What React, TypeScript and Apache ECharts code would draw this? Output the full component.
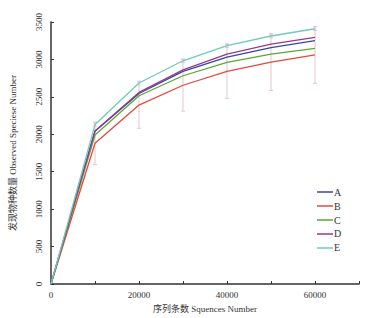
import React, { useEffect, useRef } from "react";
import * as echarts from "echarts";

const xValues = [0, 10000, 20000, 30000, 40000, 50000, 60000];
const seriesNames = ["A", "B", "C", "D", "E"];
const seriesA = [0, 2040, 2545, 2840, 3030, 3158, 3250];
const seriesB = [0, 1880, 2390, 2655, 2840, 2965, 3060];
const seriesC = [0, 1990, 2515, 2782, 2962, 3070, 3147];
const seriesD = [0, 2045, 2560, 2860, 3070, 3203, 3295];
const seriesE = [0, 2130, 2685, 2982, 3185, 3313, 3410];
const errorB = [0, 285, 310, 345, 360, 380, 380];
const errorE = [0, 20, 25, 25, 25, 25, 25];
const colors = ["#34479f", "#e5493d", "#5aa832", "#98398f", "#6fcabf"];
const xTickLabels = ["0", "20000", "40000", "60000"];

const allSeries = [seriesA, seriesB, seriesC, seriesD, seriesE];
const FONT = "'Liberation Serif', 'Times New Roman', 'Noto Sans CJK SC', serif";

export default function App() {
  const ref = useRef<HTMLDivElement>(null);
  useEffect(() => {
    if (!ref.current) return;
    const chart = echarts.init(ref.current, null, { renderer: "svg" });

    const errData = (vals: number[], errs: number[]) =>
      xValues
        .map((x, i) => [x, vals[i] - errs[i], vals[i] + errs[i]])
        .filter((d, i) => errs[i] > 0);

    const renderErr = (params: any, api: any) => {
      const x = api.value(0);
      const lo = api.coord([x, api.value(1)]);
      const hi = api.coord([x, api.value(2)]);
      const cw = 2;
      const style = { stroke: "#e6c6d0", lineWidth: 1 };
      return {
        type: "group",
        children: [
          { type: "line", shape: { x1: lo[0], y1: lo[1], x2: hi[0], y2: hi[1] }, style },
          { type: "line", shape: { x1: lo[0] - cw, y1: lo[1], x2: lo[0] + cw, y2: lo[1] }, style },
          { type: "line", shape: { x1: hi[0] - cw, y1: hi[1], x2: hi[0] + cw, y2: hi[1] }, style },
        ],
      };
    };

    chart.setOption({
      animation: false,
      backgroundColor: "#ffffff",
      textStyle: { fontFamily: FONT },
      grid: { left: 50, right: 31, top: 22, bottom: 34, containLabel: false },
      legend: {
        data: seriesNames,
        orient: "vertical",
        left: 312,
        top: 182,
        icon: "rect",
        itemWidth: 16,
        itemHeight: 1.5,
        itemGap: 4,
        textStyle: { fontFamily: FONT, fontSize: 10, color: "#333", padding: [0, 0, 0, -4] },
      },
      xAxis: {
        type: "value",
        min: 0,
        max: 70000,
        interval: 10000,
        name: "序列条数 Squences Number",
        nameLocation: "middle",
        nameGap: 20,
        nameTextStyle: { fontFamily: FONT, fontSize: 9, color: "#333" },
        axisLine: { show: true, lineStyle: { color: "#333", width: 1.5 } },
        axisTick: { show: true, inside: true, length: 3, lineStyle: { color: "#333" } },
        axisLabel: {
          fontFamily: FONT,
          fontSize: 9,
          color: "#333",
          margin: 6,
          formatter: (v: number) => (xTickLabels.includes(String(v)) ? String(v) : ""),
        },
        splitLine: { show: false },
      },
      yAxis: {
        type: "value",
        min: 0,
        max: 3500,
        interval: 500,
        name: "发现物种数量 Observed Speciese Number",
        nameLocation: "middle",
        nameGap: 34,
        nameTextStyle: { fontFamily: FONT, fontSize: 9, color: "#333" },
        axisLine: { show: true, lineStyle: { color: "#333", width: 1.5 } },
        axisTick: { show: true, inside: true, length: 3, lineStyle: { color: "#333" } },
        axisLabel: {
          fontFamily: FONT,
          fontSize: 9,
          color: "#333",
          rotate: 90,
          margin: 8,
          formatter: (v: number) => String(v),
        },
        splitLine: { show: false },
      },
      series: [
        {
          type: "custom",
          name: "errB",
          renderItem: renderErr,
          data: errData(seriesB, errorB),
          encode: { x: 0, y: [1, 2] },
          z: 1,
        },
        {
          type: "custom",
          name: "errE",
          renderItem: renderErr,
          data: errData(seriesE, errorE),
          encode: { x: 0, y: [1, 2] },
          z: 1,
        },
        ...allSeries.map((vals, i) => ({
          type: "line",
          name: seriesNames[i],
          data: xValues.map((x, j) => [x, vals[j]]),
          showSymbol: false,
          symbol: "none",
          color: colors[i],
          lineStyle: { color: colors[i], width: 1.3 },
          z: 3,
        })),
      ],
    });
    return () => chart.dispose();
  }, []);
  return <div ref={ref} style={{ width: 390, height: 318, position: "absolute", left: 0, top: 0 }} />;
}
